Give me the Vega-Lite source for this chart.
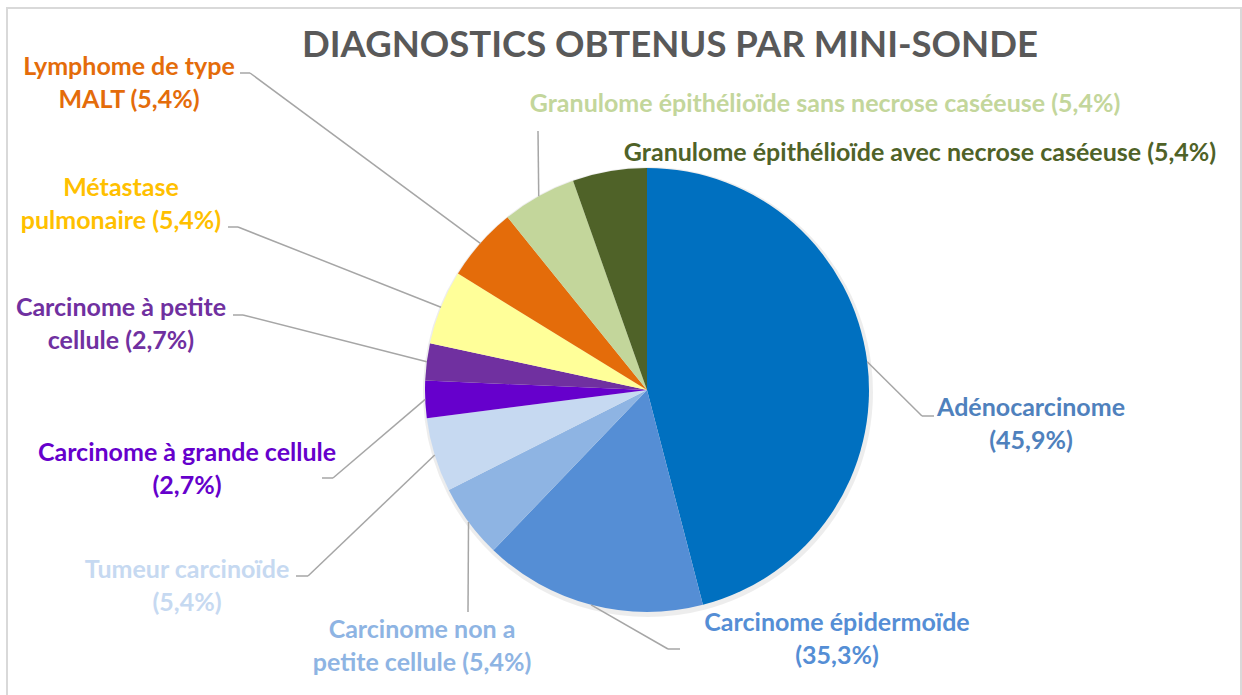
{
  "$schema": "https://vega.github.io/schema/vega-lite/v6.json",
  "width": 1234,
  "height": 700,
  "autosize": {"type": "none"},
  "padding": {"left": 7, "top": 8, "right": 1, "bottom": 0},
  "background": "white",
  "config": {
    "view": {"stroke": "#D9D9D9", "strokeWidth": 2},
    "font": "Lato"
  },
  "title": {
    "text": "DIAGNOSTICS OBTENUS PAR MINI-SONDE",
    "font": "Lato",
    "fontSize": 36.5,
    "fontWeight": "bold",
    "color": "#595959",
    "anchor": "middle",
    "baseline": "alphabetic",
    "offset": -49,
    "dy": 36,
    "dx": 46
  },
  "data": {
    "values": [
      {"cat": "Adénocarcinome", "label": "Adénocarcinome\n(45,9%)", "n": 17, "order": 1},
      {"cat": "Carcinome épidermoïde", "label": "Carcinome épidermoïde\n(35,3%)", "n": 6, "order": 2},
      {"cat": "Carcinome non a petite cellule", "label": "Carcinome non a\npetite cellule (5,4%)", "n": 2, "order": 3},
      {"cat": "Tumeur carcinoïde", "label": "Tumeur carcinoïde\n(5,4%)", "n": 2, "order": 4},
      {"cat": "Carcinome à grande cellule", "label": "Carcinome à grande cellule\n(2,7%)", "n": 1, "order": 5},
      {"cat": "Carcinome à petite cellule", "label": "Carcinome à petite\ncellule (2,7%)", "n": 1, "order": 6},
      {"cat": "Métastase pulmonaire", "label": "Métastase\npulmonaire (5,4%)", "n": 2, "order": 7},
      {"cat": "Lymphome de type MALT", "label": "Lymphome de type\nMALT (5,4%)", "n": 2, "order": 8},
      {"cat": "Granulome épithélioïde sans necrose caséeuse", "label": "Granulome épithélioïde sans necrose caséeuse (5,4%)", "n": 2, "order": 9},
      {"cat": "Granulome épithélioïde avec necrose caséeuse", "label": "Granulome épithélioïde avec necrose caséeuse (5,4%)", "n": 2, "order": 10}
    ]
  },
  "transform": [
    {"window": [{"op": "sum", "field": "n", "as": "cum"}], "sort": [{"field": "order"}], "frame": [null, 0]},
    {"joinaggregate": [{"op": "sum", "field": "n", "as": "total"}]},
    {"calculate": "datum.cum - datum.n", "as": "start"},
    {"calculate": "2 * PI * (datum.cum - datum.n / 2) / datum.total", "as": "mid"},
    {"calculate": "222 * sin(datum.mid)", "as": "ex"},
    {"calculate": "222 * cos(datum.mid)", "as": "ey"},
    {"calculate": "[[384,-18,287,-26,275,-26],[190,-233,33,-259,21,-259],[-225,-240,-179,-222,-179,-222],[-460,-180,-351,-186,-339,-186],[-460,-63,-325,-88,-314,-88],[-526,82,-414,75,-404,75],[-526,202,-419,163,-409,163],[-518,323,-407,317,-397,317],[178,286,-109,259,-109,259],[273,237,0,0,0,0]][datum.order - 1]", "as": "p"},
    {"calculate": "datum.p[0]", "as": "lx"},
    {"calculate": "datum.p[1]", "as": "ly"},
    {"calculate": "datum.p[2]", "as": "tx"},
    {"calculate": "datum.p[3]", "as": "ty"},
    {"calculate": "datum.p[4]", "as": "bx"},
    {"calculate": "datum.p[5]", "as": "by"}
  ],
  "layer": [
    {
      "mark": {"type": "arc", "outerRadius": 225, "stroke": null, "color": "#000000", "opacity": 0.07},
      "encoding": {
        "theta": {"field": "start", "type": "quantitative", "scale": {"domain": [0, 37], "nice": false, "zero": true}},
        "theta2": {"field": "cum"},
        "x": {"datum": 1, "type": "quantitative", "scale": {"domain": [-640, 594], "nice": false, "zero": false}, "axis": null},
        "y": {"datum": -2, "type": "quantitative", "scale": {"domain": [-318, 382], "nice": false, "zero": false}, "axis": null}
      }
    },
    {
      "mark": {"type": "arc", "outerRadius": 222, "stroke": null},
      "encoding": {
        "theta": {"field": "start", "type": "quantitative", "scale": {"domain": [0, 37], "nice": false, "zero": true}},
        "theta2": {"field": "cum"},
        "x": {"datum": 0, "type": "quantitative", "scale": {"domain": [-640, 594], "nice": false, "zero": false}, "axis": null},
        "y": {"datum": 0, "type": "quantitative", "scale": {"domain": [-318, 382], "nice": false, "zero": false}, "axis": null},
        "color": {
          "field": "cat", "type": "nominal", "legend": null,
          "scale": {
            "domain": ["Adénocarcinome", "Carcinome épidermoïde", "Carcinome non a petite cellule", "Tumeur carcinoïde", "Carcinome à grande cellule", "Carcinome à petite cellule", "Métastase pulmonaire", "Lymphome de type MALT", "Granulome épithélioïde sans necrose caséeuse", "Granulome épithélioïde avec necrose caséeuse"],
            "range": ["#0070C0", "#558ED5", "#8EB4E3", "#C6D9F1", "#6600CC", "#7030A0", "#FFFF99", "#E46C0A", "#C3D69B", "#4F6228"]
          }
        }
      }
    },
    {
      "transform": [{"filter": "datum.order < 10"}],
      "mark": {"type": "rule", "color": "#A6A6A6", "strokeWidth": 1.5},
      "encoding": {
        "x": {"field": "ex", "type": "quantitative", "scale": {"domain": [-640, 594], "nice": false, "zero": false}, "axis": null},
        "y": {"field": "ey", "type": "quantitative", "scale": {"domain": [-318, 382], "nice": false, "zero": false}, "axis": null},
        "x2": {"field": "bx"},
        "y2": {"field": "by"}
      }
    },
    {
      "transform": [{"filter": "datum.order < 10"}],
      "mark": {"type": "rule", "color": "#A6A6A6", "strokeWidth": 1.5},
      "encoding": {
        "x": {"field": "bx", "type": "quantitative", "scale": {"domain": [-640, 594], "nice": false, "zero": false}, "axis": null},
        "y": {"field": "by", "type": "quantitative", "scale": {"domain": [-318, 382], "nice": false, "zero": false}, "axis": null},
        "x2": {"field": "tx"},
        "y2": {"field": "ty"}
      }
    },
    {
      "mark": {"type": "text", "lineBreak": "\n", "font": "Lato", "fontWeight": "bold", "fontSize": 25, "lineHeight": 33, "align": "center", "baseline": "middle"},
      "encoding": {
        "x": {"field": "lx", "type": "quantitative", "scale": {"domain": [-640, 594], "nice": false, "zero": false}, "axis": null},
        "y": {"field": "ly", "type": "quantitative", "scale": {"domain": [-318, 382], "nice": false, "zero": false}, "axis": null},
        "text": {"field": "label"},
        "color": {
          "field": "cat", "type": "nominal", "legend": null,
          "scale": {
            "domain": ["Adénocarcinome", "Carcinome épidermoïde", "Carcinome non a petite cellule", "Tumeur carcinoïde", "Carcinome à grande cellule", "Carcinome à petite cellule", "Métastase pulmonaire", "Lymphome de type MALT", "Granulome épithélioïde sans necrose caséeuse", "Granulome épithélioïde avec necrose caséeuse"],
            "range": ["#4F81BD", "#558ED5", "#8EB4E3", "#C6D9F1", "#6600CC", "#7030A0", "#FFC000", "#E46C0A", "#C3D69B", "#4F6228"]
          }
        }
      }
    }
  ],
  "resolve": {"scale": {"color": "independent"}}
}
